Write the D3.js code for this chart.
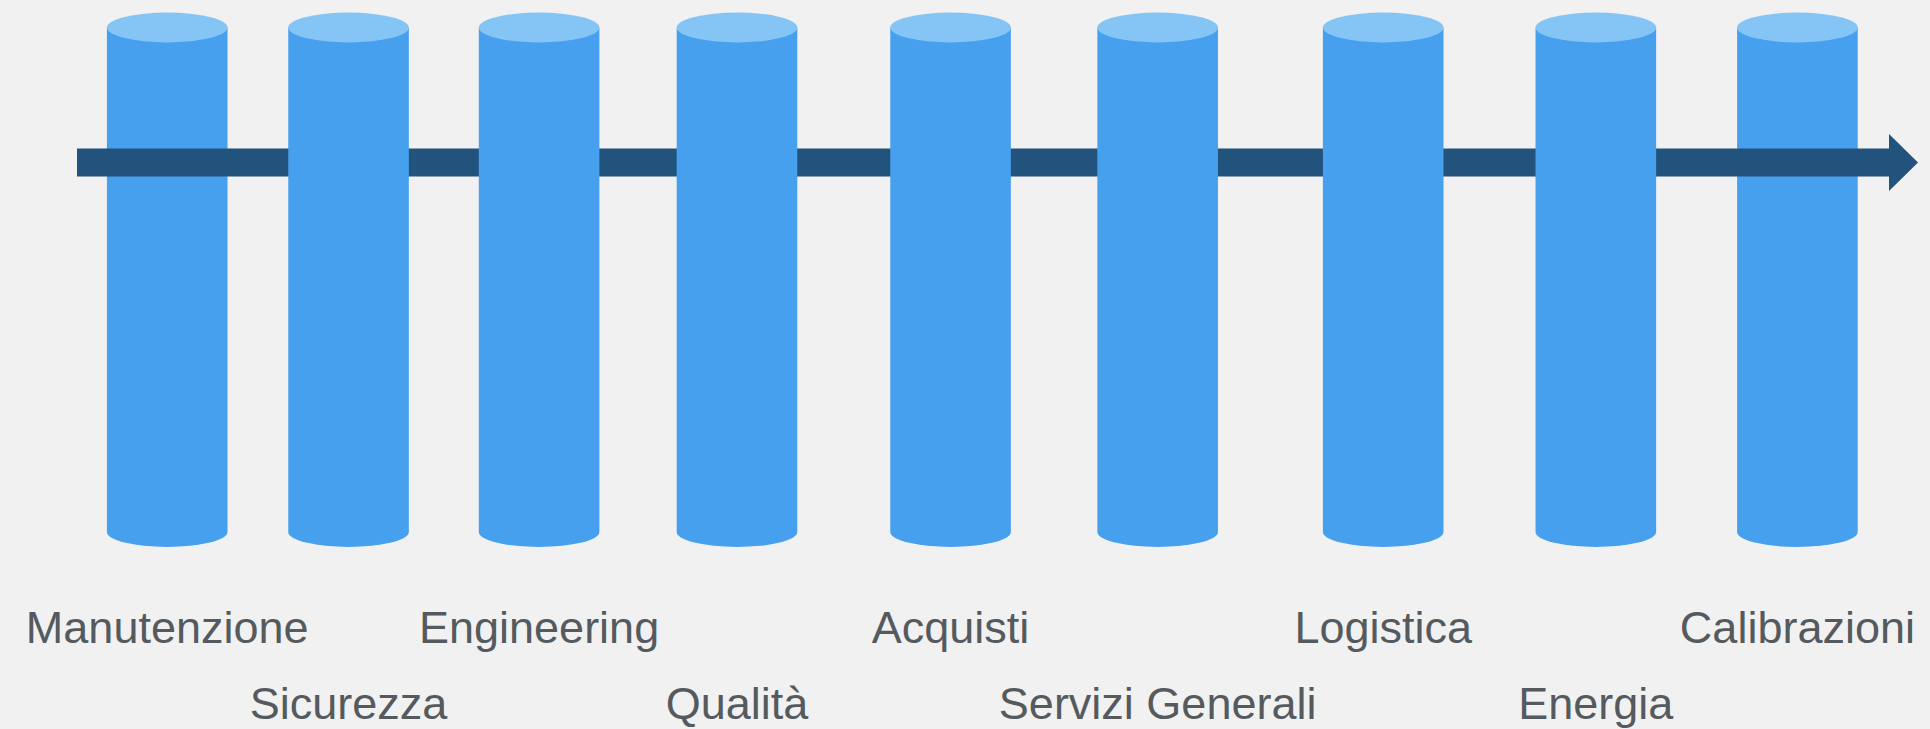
<!DOCTYPE html>
<html>
<head>
<meta charset="utf-8">
<script src="https://cdn.jsdelivr.net/npm/d3@7"></script>
<style>
  html, body { margin: 0; padding: 0; background: #f1f1f1; }
  svg { display: block; }
</style>
</head>
<body>
<div id="chart"></div>
<script>
// Departments along the timeline
const departments = [
  "Manutenzione", "Sicurezza", "Engineering", "Qualità", "Acquisti",
  "Servizi Generali", "Logistica", "Energia", "Calibrazioni"
];
// Position of each pillar along the arrow (0 = arrow start, 100 = arrow tip)
const positions = [4.9, 14.75, 25.1, 35.85, 47.45, 58.7, 70.95, 82.5, 93.45];
// Label row for each pillar (0 = upper, 1 = lower)
const labelRows = [0, 1, 0, 1, 0, 1, 0, 1, 0];
// Pillars that the arrow passes in front of
const arrowInFront = [true, false, false, false, false, false, false, false, true];

const width = 1930;
const height = 729;

const svg = d3
  .select("#chart")
  .append("svg")
  .attr("width", width)
  .attr("height", height);

svg.append("rect").attr("width", width).attr("height", height).attr("fill", "#f1f1f1");

// Horizontal scale along the arrow
const x = d3.scaleLinear().domain([0, 100]).range([77, 1918]);

const pillarTop = 27.5;
const pillarBottom = 532;
const rx = 60.3;
const ry = 15;
const arrowY = 162.5;
const barH = 28;
const headLen = 29;
const headH = 57;

const pillars = departments.map((name, i) => ({
  name,
  pos: positions[i],
  row: labelRows[i],
  front: arrowInFront[i],
}));

const drawPillars = (g, data) => {
  const p = g
    .selectAll(".pillar")
    .data(data)
    .enter()
    .append("g")
    .attr("class", "pillar");

  p.append("path")
    .attr("d", (d) => {
      const cx = x(d.pos);
      return `M${cx - rx},${pillarTop} L${cx - rx},${pillarBottom} A${rx},${ry} 0 0 0 ${cx + rx},${pillarBottom} L${cx + rx},${pillarTop} Z`;
    })
    .attr("fill", "#47a0ee");

  p.append("ellipse")
    .attr("cx", (d) => x(d.pos))
    .attr("cy", pillarTop)
    .attr("rx", rx)
    .attr("ry", ry)
    .attr("fill", "#85c5f5");
};

// Pillars behind the arrow
drawPillars(svg.append("g"), pillars.filter((d) => d.front));

// The arrow
const x0 = x(0);
const x1 = x(100);
svg.append("path")
  .attr(
    "d",
    `M${x0},${arrowY - barH / 2} L${x1 - headLen},${arrowY - barH / 2} L${x1 - headLen},${arrowY - headH / 2}` +
      ` L${x1},${arrowY} L${x1 - headLen},${arrowY + headH / 2} L${x1 - headLen},${arrowY + barH / 2}` +
      ` L${x0},${arrowY + barH / 2} Z`
  )
  .attr("fill", "#22537d");

// Pillars in front of the arrow
drawPillars(svg.append("g"), pillars.filter((d) => !d.front));

// Labels
const rowY = [643, 719];
svg.selectAll(".label")
  .data(pillars)
  .enter()
  .append("text")
  .attr("class", "label")
  .attr("x", (d) => x(d.pos))
  .attr("y", (d) => rowY[d.row])
  .attr("text-anchor", "middle")
  .attr("font-family", "Liberation Sans, Arial, Helvetica, sans-serif")
  .attr("font-size", 45)
  .attr("fill", "#555a5f")
  .text((d) => d.name);
</script>
</body>
</html>
